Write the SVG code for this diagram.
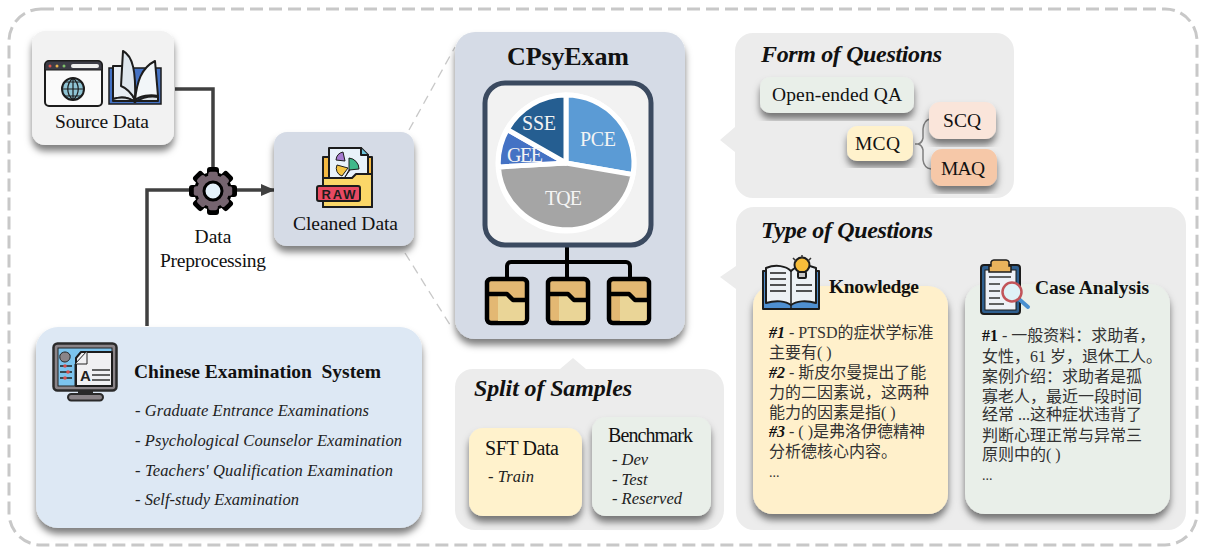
<svg xmlns="http://www.w3.org/2000/svg" width="1206" height="553" viewBox="0 0 1206 553">
<style>
text{font-family:"Liberation Serif","Noto Sans CJK SC",serif;fill:#111}
.l{font-size:19.500px}.h{font-weight:bold;font-size:19.500px}.ti{font-weight:bold;font-style:italic;font-size:24px}
.it{font-style:italic;font-size:16.500px;fill:#222}.c{font-size:16px;fill:#333}.c tspan{fill:#111}
.pie{font-size:20px;fill:#f4f4f4}
.panel{fill:#ececec}.sh{filter:url(#s)}
.conn{fill:none;stroke:#404040;stroke-width:3.5}
.ink{stroke:#1c1c1c;stroke-width:2;stroke-linejoin:round;stroke-linecap:round}
.fo{stroke:#000;stroke-width:4.500;stroke-linejoin:round}
</style>
<defs>
<filter id="s" x="-20%" y="-20%" width="140%" height="140%"><feDropShadow dx="0" dy="6" stdDeviation="3.5" flood-color="#000" flood-opacity=".5"/></filter>
<marker id="a" markerUnits="userSpaceOnUse" markerWidth="14" markerHeight="14" refX="13" refY="7" orient="auto"><path d="M0 1L14 7L0 13Z" fill="#404040"/></marker>
<g id="folder"><path class="fo" fill="#e3b873" d="M-20 -18a4 4 0 0 1 4-4H16a4 4 0 0 1 4 4V18a4 4 0 0 1-4 4H-16a4 4 0 0 1-4-4Z"/><path fill="#ead597" d="M-9 -5H2L6 0H17.700V18a2 2 0 0 1-2 2H-9Z"/><path d="M-20 -7H0L6 -1H20" fill="none" stroke="#000" stroke-width="4.500" stroke-linejoin="round"/></g>
<rect id="tooth" x="-6" y="-24" width="12" height="12" rx="3"/>
</defs>
<rect x="9" y="9" width="1188" height="536" rx="32" fill="#fff" stroke="#c8c8c8" stroke-width="3" stroke-dasharray="13 6"/>
<g id="guides" fill="none" stroke="#c8c8c8" stroke-width="1.300" stroke-dasharray="9 6"><path d="M409 130L455 47"/><path d="M405 253L452 328"/></g>
<g id="connectors"><path class="conn" d="M175 89H213V172"/><path class="conn" d="M147 326V190H192"/><path class="conn" d="M236 190H274" marker-end="url(#a)"/></g>
<g id="source-data"><rect class="sh" x="32" y="31" width="142" height="114" rx="13" fill="#f2f2f2"/>
<rect class="ink" x="45" y="61" width="57" height="45" rx="4" fill="#fafafa"/><path d="M45 65a4 4 0 0 1 4-4H98a4 4 0 0 1 4 4V70H45Z" fill="#3c3c46" stroke="#1c1c1c"/><circle cx="50" cy="66" r="1.500" fill="#e0524d"/><circle cx="57" cy="66" r="1.500" fill="#e9b44c"/><circle cx="64" cy="66" r="1.500" fill="#7fbf6a"/><rect x="71" y="64" width="28" height="4" rx="2" fill="#eee"/>
<circle class="ink" cx="73" cy="89" r="11" fill="#8fc4d4"/><path d="M62 89H84M73 78V100M65 82H81M65 96H81M73 78C66 84 66 94 73 100C80 94 80 84 73 78" fill="none" stroke="#1c1c1c" stroke-width="1.200"/>
<path d="M109 68H161V104H109Z" fill="#4472c4" stroke="#1c1c1c" stroke-width="1.500"/>
<path class="ink" d="M113 66V99Q126 95 135 102L125 66Z" fill="#e8eef4"/><path class="ink" d="M123 51C133 56 136 72 135 100C131 92 126 88 121 86Z" fill="#dfe7ee"/><path class="ink" d="M135 100C137 82 141 68 155 61L158 96C150 94 140 96 135 100Z" fill="#f2f6f9"/><path class="ink" d="M113 99Q126 95 135 102Q146 95 158 97V101H113Z" fill="#dbe2e8"/>
<text class="l" x="55" y="128" textLength="94">Source Data</text></g>
<g id="preprocessing"><g fill="#000"><use href="#tooth" transform="translate(213 191)"/><use href="#tooth" transform="translate(213 191) rotate(45)"/><use href="#tooth" transform="translate(213 191) rotate(90)"/><use href="#tooth" transform="translate(213 191) rotate(135)"/><use href="#tooth" transform="translate(213 191) rotate(180)"/><use href="#tooth" transform="translate(213 191) rotate(225)"/><use href="#tooth" transform="translate(213 191) rotate(270)"/><use href="#tooth" transform="translate(213 191) rotate(315)"/><circle cx="213" cy="191" r="19"/></g>
<g fill="#75646f"><use href="#tooth" transform="translate(213 191) scale(.8)"/><use href="#tooth" transform="translate(213 191) rotate(45) scale(.8)"/><use href="#tooth" transform="translate(213 191) rotate(90) scale(.8)"/><use href="#tooth" transform="translate(213 191) rotate(135) scale(.8)"/><use href="#tooth" transform="translate(213 191) rotate(180) scale(.8)"/><use href="#tooth" transform="translate(213 191) rotate(225) scale(.8)"/><use href="#tooth" transform="translate(213 191) rotate(270) scale(.8)"/><use href="#tooth" transform="translate(213 191) rotate(315) scale(.8)"/><circle cx="213" cy="191" r="16"/></g>
<circle cx="213" cy="191" r="9" fill="#e4f1fa" stroke="#000" stroke-width="3"/>
<text class="l" x="213" y="243" text-anchor="middle">Data</text><text class="l" x="160" y="267" textLength="106">Preprocessing</text></g>
<g id="cleaned-data"><rect class="sh" x="274" y="132" width="140" height="114" rx="13" fill="#d5dbe6"/>
<path class="ink" d="M323 157H372V207H323Z" fill="#f5b942"/><path class="ink" d="M329 148H361L368 155V178H329Z" fill="#e8f2fa"/><path class="ink" d="M361 148V155H368" fill="#6cc5dc"/>
<path d="M343 152A9 9 0 0 0 336 160L345 161Z" fill="#a67bd0" stroke="#1c1c1c"/><path d="M349 158A11 11 0 0 1 359 169L349 170Z" fill="#3fb88a" stroke="#1c1c1c"/><path d="M337 165L348 168L342 176A8 8 0 0 1 337 165Z" fill="#f5c542" stroke="#1c1c1c"/><path d="M349 170L350 170L345 177Z" fill="#e04a5f" stroke="#1c1c1c"/>
<path class="ink" d="M323 178H352L356 174H372V207H323Z" fill="#fbd768"/><rect class="ink" x="317" y="186" width="43" height="15" rx="2" fill="#e84a62"/><text x="338.500" y="198.500" text-anchor="middle" textLength="34" style="font-family:'Liberation Sans',sans-serif;font-weight:bold;font-size:13px;fill:#1c1c1c">RAW</text>
<text class="l" x="293" y="230" textLength="105">Cleaned Data</text></g>
<g id="split-of-samples"><path class="panel" d="M473 369H560L573 358L586 369H704a20 20 0 0 1 20 20V510a20 20 0 0 1-20 20H475a20 20 0 0 1-20-20V387a18 18 0 0 1 18-18Z"/>
<text class="ti" x="474" y="396" textLength="158">Split of Samples</text>
<rect class="sh" x="469" y="428" width="113" height="88" rx="14" fill="#fff2cc"/><text class="l" x="485" y="455" textLength="74" style="font-size:20px">SFT Data</text><text class="it" x="488" y="482" textLength="46">- Train</text>
<rect class="sh" x="592" y="417" width="119" height="99" rx="14" fill="#e9efe9"/><text class="l" x="608" y="442" textLength="85" style="font-size:20px">Benchmark</text><text class="it" x="612" y="465">- Dev</text><text class="it" x="612" y="485">- Test</text><text class="it" x="612" y="504" textLength="70">- Reserved</text></g>
<g id="cpsyexam"><rect class="sh" x="455" y="32" width="230" height="307" rx="20" fill="#d5dbe6"/>
<text x="507" y="65" textLength="122" style="font-weight:bold;font-size:26px">CPsyExam</text>
<path d="M567 247V278M507 278V266a4 4 0 0 1 4-4H626a4 4 0 0 1 4 4V278" fill="none" stroke="#000" stroke-width="4"/>
<rect x="485" y="83" width="166" height="162" rx="20" fill="#f2f2f2" stroke="#3b4a60" stroke-width="5"/>
<circle cx="566" cy="163" r="70.500" fill="#fff"/>
<g stroke="#fff" stroke-width="5" stroke-linejoin="round"><path d="M566 163V95A68 68 0 0 1 633 174.600Z" fill="#5b9bd5"/><path d="M566 163L633 174.600A68 68 0 0 1 498.400 166.900Z" fill="#a5a5a5"/><path d="M566 163L498.400 166.900A68 68 0 0 1 507.200 129.400Z" fill="#4472c4"/><path d="M566 163L507.200 129.400A68 68 0 0 1 566 95Z" fill="#255e91"/></g>
<text class="pie" x="522" y="130" textLength="34">SSE</text><text class="pie" x="580" y="146" textLength="36">PCE</text><text class="pie" x="507" y="162" textLength="36">GEE</text><text class="pie" x="545" y="205" textLength="37">TQE</text>
<use href="#folder" transform="translate(507 301)"/><use href="#folder" transform="translate(568 301)"/><use href="#folder" transform="translate(629 301)"/></g>
<g id="exam-system"><rect class="sh" x="36" y="327" width="386" height="201" rx="22" fill="#dde8f4"/>
<rect x="53.500" y="343.500" width="63" height="47" rx="4" fill="#8a8488" stroke="#2a2a2a" stroke-width="2.500"/><rect x="58" y="348" width="54" height="38" fill="#7cc4ee" stroke="#222"/><path class="ink" d="M81 352H112V386H76V358Z" fill="#f0f0f2" stroke-width="1.500"/><path d="M75 386V364L87 351V364H75" fill="#f0f0f2" stroke="#222"/><path d="M60 355C62 351 68 351 70 355C71 360 67 362 65 362C62 362 59 360 60 355Z" fill="#8a8488" stroke="#222"/><path d="M60 366H72M60 372H72M60 378H72" stroke="#222" stroke-width="1.500"/><circle cx="65" cy="366" r="1.800" fill="#d95050"/><circle cx="68" cy="372" r="1.800" fill="#d95050"/><circle cx="65" cy="378" r="1.800" fill="#d95050"/>
<text x="80" y="381" style="font-family:'Liberation Sans',sans-serif;font-weight:bold;font-size:15px;fill:#222">A</text><path d="M92 370H110M92 375H110M92 380H110" stroke="#333" stroke-width="1.500"/>
<rect x="68" y="394" width="35" height="6.500" rx="3.200" fill="#8a8488" stroke="#2a2a2a" stroke-width="2"/><rect x="78" y="390" width="15" height="4" fill="#2a2a2a"/>
<text class="h" x="134" y="378" textLength="247" style="white-space:pre">Chinese Examination  System</text>
<text class="it" x="135" y="416" textLength="234">- Graduate Entrance Examinations</text><text class="it" x="135" y="446" textLength="267">- Psychological Counselor Examination</text><text class="it" x="135" y="476" textLength="258">- Teachers' Qualification Examination</text><text class="it" x="135" y="505" textLength="164">- Self-study Examination</text></g>
<g id="form-of-questions"><path class="panel" d="M753 33H996a18 18 0 0 1 18 18V180a18 18 0 0 1-18 18H753a18 18 0 0 1-18-18V152L720 140L735 127V51a18 18 0 0 1 18-18Z"/>
<text class="ti" x="761" y="62" textLength="181">Form of Questions</text>
<path d="M915 144H918Q922 143 923 138V129Q924 120 930 119M918 144Q922 145 923 150V160Q924 168 931 169" fill="none" stroke="#7f7f7f" stroke-width="1.500"/>
<rect class="sh" x="760" y="77" width="154" height="36" rx="10" fill="#e9efe9"/><text class="l" x="772" y="101" textLength="130">Open-ended QA</text>
<rect class="sh" x="847" y="126" width="66" height="35" rx="10" fill="#fff2cc"/><text class="l" x="855" y="150" textLength="45">MCQ</text>
<rect class="sh" x="929" y="102" width="67" height="37" rx="11" fill="#fae5da"/><text class="l" x="943" y="127" textLength="38">SCQ</text>
<rect class="sh" x="931" y="149" width="66" height="37" rx="11" fill="#f6c8a8"/><text class="l" x="941" y="175" textLength="44">MAQ</text></g>
<g id="type-of-questions"><path class="panel" d="M754 207H1168a18 18 0 0 1 18 18V512a18 18 0 0 1-18 18H754a18 18 0 0 1-18-18V289L720 277L736 266V225a18 18 0 0 1 18-18Z"/>
<text class="ti" x="761" y="238" textLength="172">Type of Questions</text></g>
<g id="knowledge"><rect class="sh" x="753" y="286" width="195" height="228" rx="20" fill="#fff0cb"/>
<path d="M763 271H819V309H763Z" fill="#4f8fd0" stroke="#1c1c1c" stroke-width="2" stroke-linejoin="round"/><path class="ink" d="M766 268C776 264 786 266 791 271C796 266 806 264 816 268V303C806 300 796 301 791 305C786 301 776 300 766 303Z" fill="#edf1f5"/><path d="M791 271V309M770 273H786M770 279H786M770 285H786M770 291H786M796 285H812M796 291H812" fill="none" stroke="#1c1c1c" stroke-width="1.500"/>
<circle class="ink" cx="802" cy="265" r="7.500" fill="#f7bd3a"/><rect class="ink" x="798" y="272" width="8" height="6" rx="1" fill="#c7c7c7"/><path d="M802 255V258M793 258L796 261M811 258L808 261" stroke="#333" stroke-width="1.500"/>
<text class="h" x="829" y="293" textLength="90">Knowledge</text>
<text class="c" x="769" y="338"><tspan font-weight="bold" font-style="italic">#1</tspan> - PTSD的症状学标准</text><text class="c" x="769" y="358">主要有( )</text><text class="c" x="769" y="378"><tspan font-weight="bold" font-style="italic">#2</tspan> - 斯皮尔曼提出了能</text><text class="c" x="769" y="398">力的二因素说，这两种</text><text class="c" x="769" y="418">能力的因素是指( )</text><text class="c" x="769" y="437"><tspan font-weight="bold" font-style="italic">#3</tspan> - ( )是弗洛伊德精神</text><text class="c" x="769" y="457">分析德核心内容。</text><text class="c" x="769" y="477" style="font-size:14px">...</text></g>
<g id="case-analysis"><rect class="sh" x="965" y="284" width="205" height="230" rx="20" fill="#e9efe9"/>
<rect x="981" y="265" width="39" height="49" rx="3" fill="#2f5f8f" stroke="#1c1c1c" stroke-width="2"/><rect x="985" y="270" width="31" height="40" fill="#eef1f7" stroke="#1c1c1c"/><path d="M991 266V262a3 3 0 0 1 3-2H1006a3 3 0 0 1 3 2V266h2V272H989V266Z" fill="#e9b35c" stroke="#1c1c1c" stroke-width="1.500"/><path d="M989 277H1011M989 284H1000M989 291H1000M989 298H1000M989 304H1004" stroke="#333" stroke-width="1.500"/>
<path d="M1020 300L1028 307" stroke="#4a90d0" stroke-width="4" stroke-linecap="round"/><circle cx="1012" cy="292" r="9.500" fill="#dff1f7" stroke="#c2545a" stroke-width="2.500"/>
<text class="h" x="1035" y="294" textLength="114">Case Analysis</text>
<text class="c" x="982" y="341"><tspan font-weight="bold">#1</tspan> - 一般资料：求助者，</text><text class="c" x="982" y="362">女性，61 岁，退休工人。</text><text class="c" x="982" y="382">案例介绍：求助者是孤</text><text class="c" x="982" y="402">寡老人，最近一段时间</text><text class="c" x="982" y="420">经常 ...这种症状违背了</text><text class="c" x="982" y="441">判断心理正常与异常三</text><text class="c" x="982" y="460">原则中的( )</text><text class="c" x="982" y="480" style="font-size:14px">...</text></g>
</svg>
